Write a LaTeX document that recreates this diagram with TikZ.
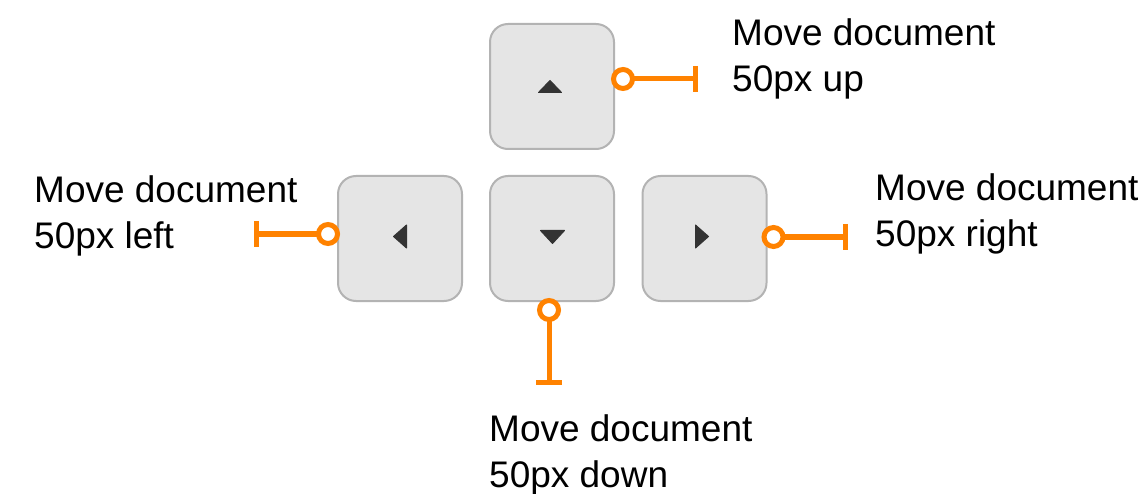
\documentclass[tikz,border=0pt]{standalone}
\usepackage{fontspec}
\setmainfont{Liberation Sans}
\definecolor{keyfill}{HTML}{E5E5E5}
\definecolor{keyline}{HTML}{B3B3B3}
\definecolor{accent}{HTML}{FF8200}
\definecolor{glyph}{HTML}{333333}
\begin{document}
\begin{tikzpicture}[x=1pt,y=-1pt,
  key/.style={draw=keyline, fill=keyfill, line width=2pt, rounded corners=18pt,
              minimum width=124pt, minimum height=125pt, inner sep=0pt},
  conn/.style={draw=accent, line width=5pt},
  ring/.style={draw=accent, fill=white, line width=5pt},
  glyphtri/.style={fill=glyph, draw=glyph, line width=1pt, line join=round},
  lab/.style={anchor=north west, inner sep=0pt, align=left,
              font=\fontsize{37}{46}\selectfont}]
\useasboundingbox (0,0) rectangle (1147,494);

% keys
\node[key] (up) at (552,86.5) {};
\node[key] (left) at (400,238.5) {};
\node[key] (down) at (552,238.5) {};
\node[key] (right) at (704.5,238.5) {};

% key glyphs
\filldraw[glyphtri] ([shift={(-2,-6)}]up.center) -- ++(11.5,12) -- ++(-23,0) -- cycle;
\filldraw[glyphtri] ([shift={(-11.5,-8)}]down.center) -- ++(24,0) -- ++(-12,13) -- cycle;
\filldraw[glyphtri] ([shift={(-6.5,-2)}]left.center) -- ++(13,-11.5) -- ++(0,23) -- cycle;
\filldraw[glyphtri] ([shift={(4,-2)}]right.center) -- ++(-13,-11.5) -- ++(0,23) -- cycle;

% connector points
\coordinate (upc) at ([shift={(8,-7.5)}]up.east);
\coordinate (upb) at ([shift={(72,0)}]upc);
\coordinate (lc) at ([shift={(-9,-4.5)}]left.west);
\coordinate (lb) at ([shift={(-72,0)}]lc);
\coordinate (dc) at ([shift={(-3,8)}]down.south);
\coordinate (db) at ([shift={(0,72)}]dc);
\coordinate (rc) at ([shift={(6,-1.5)}]right.east);
\coordinate (rb) at ([shift={(72,0)}]rc);

% connectors
\draw[conn] (upc) -- (upb);
\draw[conn] ([shift={(0,-13)}]upb) -- ([shift={(0,13)}]upb);
\draw[ring] (upc) circle (9.5pt);

\draw[conn] (lc) -- (lb);
\draw[conn] ([shift={(0,-13)}]lb) -- ([shift={(0,13)}]lb);
\draw[ring] (lc) circle (9.5pt);

\draw[conn] (dc) -- (db);
\draw[conn] ([shift={(-13,0)}]db) -- ([shift={(13,0)}]db);
\draw[ring] (dc) circle (9.5pt);

\draw[conn] (rc) -- (rb);
\draw[conn] ([shift={(0,-13)}]rb) -- ([shift={(0,13)}]rb);
\draw[ring] (rc) circle (9.5pt);

% labels
\node[lab] (tup) at (732,18.5) {Move document\\50px up};
\node[lab] (tleft) at (34,175.5) {Move document\\50px left};
\node[lab] (tdown) at (489,414.5) {Move document\\50px down};
\node[lab] (tright) at (875,173.5) {Move document\\50px right};
\end{tikzpicture}
\end{document}
